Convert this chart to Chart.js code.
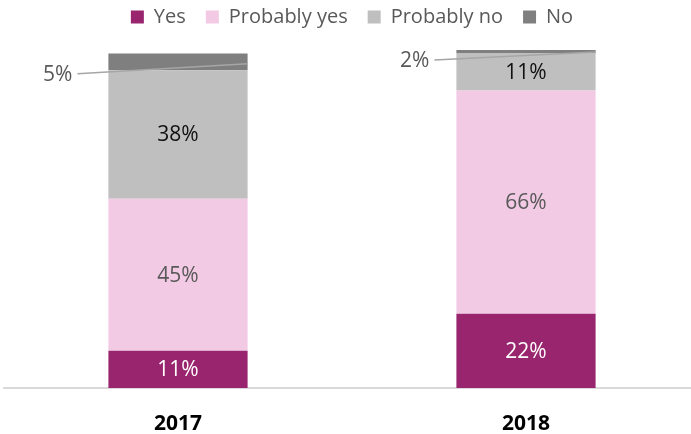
<!DOCTYPE html>
<html>
<head>
<meta charset="utf-8">
<script src="https://cdn.jsdelivr.net/npm/chart.js@4"></script>
<style>
  html, body { margin: 0; padding: 0; background: #fff; overflow: hidden; }
  #wrap { width: 700px; height: 434px; position: relative; }
</style>
</head>
<body>
<div id="wrap"><canvas id="chart"></canvas></div>
<script>
var years = ['2017', '2018'];
var yes = [11, 22];
var probablyYes = [45, 66];
var probablyNo = [38, 11];
var no = [5, 2];

var seriesNames = ['Yes', 'Probably yes', 'Probably no', 'No'];
var colors = ['#99256f', '#f2cae4', '#bfbfbf', '#7f7f7f'];
var labelColors = ['#ffffff', '#595959', '#111111', '#595959'];

// values inside the bars, and the small "No" values pulled out with a leader line
var labelPlugin = {
    id: 'barLabels',
    afterLayout: function (chart) {
        // pull the legend row up closer to the top edge
        if (chart.legend) {
            chart.legend.top -= 13;
            chart.legend.bottom -= 13;
        }
    },
    afterDatasetsDraw: function (chart) {
        var ctx = chart.ctx;
        ctx.save();
        ctx.font = '21px "Open Sans", sans-serif';
        ctx.textBaseline = 'middle';
        chart.data.datasets.forEach(function (ds, di) {
            var meta = chart.getDatasetMeta(di);
            meta.data.forEach(function (bar, i) {
                var text = ds.data[i] + '%';
                var midY = (bar.y + bar.base) / 2;
                if (di < 3) {
                    ctx.fillStyle = labelColors[di];
                    ctx.textAlign = 'center';
                    ctx.fillText(text, bar.x, midY + 1);
                } else {
                    var left = bar.x - bar.width / 2;
                    var right = bar.x + bar.width / 2;
                    var out = i === 0 ? { dx: 31, dy: 12 } : { dx: 22, dy: 10 };
                    ctx.strokeStyle = '#a6a6a6';
                    ctx.lineWidth = 1.5;
                    ctx.beginPath();
                    ctx.moveTo(left - out.dx, midY + out.dy);
                    ctx.lineTo(right, midY + 2);
                    ctx.stroke();
                    ctx.fillStyle = labelColors[di];
                    ctx.textAlign = 'right';
                    ctx.fillText(text, left - out.dx - 5, midY + out.dy + 1);
                }
            });
        });
        ctx.restore();
    }
};

var ctx = document.getElementById('chart').getContext('2d');
var chart = new Chart(ctx, {
    type: 'bar',
    data: {
        labels: years,
        datasets: [yes, probablyYes, probablyNo, no].map(function (vals, k) {
            return {
                label: seriesNames[k],
                data: vals,
                backgroundColor: colors[k],
                borderWidth: 0,
                barPercentage: 0.4,
                categoryPercentage: 1
            };
        })
    },
    options: {
        responsive: true,
        maintainAspectRatio: false,
        animation: false,
        layout: { padding: { left: 4, right: 0, top: 0, bottom: 0 } },
        plugins: {
            legend: {
                position: 'top',
                labels: {
                    boxWidth: 13,
                    boxHeight: 13,
                    padding: 20,
                    color: '#595959',
                    font: { family: '"Open Sans", sans-serif', size: 20 }
                }
            },
            tooltip: { enabled: false }
        },
        scales: {
            x: {
                stacked: true,
                grid: { display: false },
                border: { color: '#d9d9d9', width: 2 },
                afterFit: function (scale) { scale.height = 46; },
                ticks: {
                    color: '#000',
                    padding: 15,
                    font: { family: '"Open Sans", sans-serif', size: 21, weight: 'bold' }
                }
            },
            y: {
                stacked: true,
                display: false,
                min: 0,
                max: 100
            }
        }
    },
    plugins: [labelPlugin]
});
</script>
</body>
</html>
